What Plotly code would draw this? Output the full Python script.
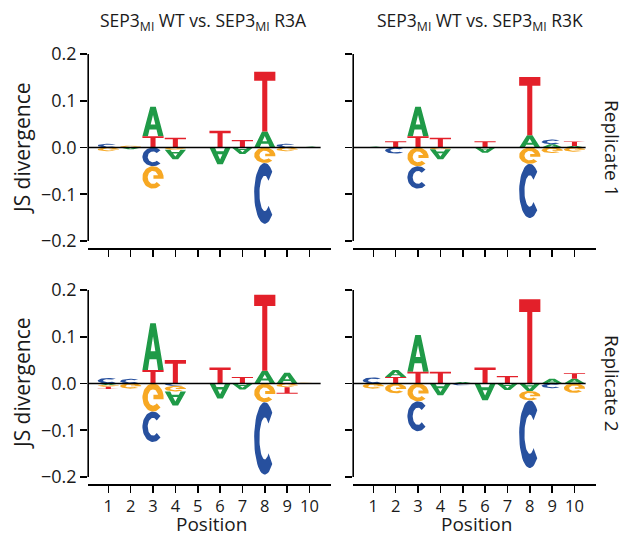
import numpy as np
import plotly.graph_objects as go

# ---------------- data ----------------
POSITIONS = [1, 2, 3, 4, 5, 6, 7, 8, 9, 10]
POSITION_LABELS = ["1", "2", "3", "4", "5", "6", "7", "8", "9", "10"]
Y_TICKS = [-0.2, -0.1, 0.0, 0.1, 0.2]

COLUMN_TITLES = ["SEP3<sub>MI</sub> WT vs. SEP3<sub>MI</sub> R3A",
                 "SEP3<sub>MI</sub> WT vs. SEP3<sub>MI</sub> R3K"]
ROW_TITLES = ["Replicate 1", "Replicate 2"]

# signed JS-divergence contributions per nucleotide, positions 1..10
R3A_REP1_A = [0.0, -0.004, 0.063, -0.020, 0.0, -0.036, -0.014, 0.034, 0.0, 0.002]
R3A_REP1_C = [0.008, 0.0, -0.040, 0.0, 0.0, 0.0, 0.0, -0.130, 0.008, 0.0]
R3A_REP1_G = [-0.008, 0.004, -0.048, -0.005, 0.0, 0.0, 0.0, -0.033, -0.008, 0.0]
R3A_REP1_T = [0.0, 0.0, 0.024, 0.021, 0.0, 0.036, 0.016, 0.128, 0.0, 0.0]

R3K_REP1_A = [0.002, 0.0, 0.063, -0.021, 0.0, -0.011, 0.0, 0.026, 0.007, 0.003]
R3K_REP1_C = [0.0, -0.013, -0.048, 0.0, 0.0, 0.0, 0.0, -0.116, 0.010, 0.0]
R3K_REP1_G = [0.0, 0.0, -0.040, -0.004, 0.0, 0.0, 0.0, -0.035, -0.012, -0.009]
R3K_REP1_T = [0.0, 0.0135, 0.024, 0.021, 0.0, 0.0135, 0.0, 0.125, 0.0, 0.010]

R3A_REP2_A = [-0.003, 0.0, 0.100, -0.030, 0.0, -0.032, -0.013, 0.027, 0.023, 0.0]
R3A_REP2_C = [0.012, 0.010, -0.065, -0.005, 0.0, 0.0, 0.0, -0.155, 0.0, 0.0]
R3A_REP2_G = [-0.004, -0.011, -0.060, -0.012, 0.0, 0.0, 0.0, -0.040, -0.008, 0.002]
R3A_REP2_T = [-0.005, 0.0, 0.029, 0.050, 0.0, 0.034, 0.014, 0.163, -0.014, 0.0]

R3K_REP2_A = [0.0, 0.015, 0.079, -0.025, 0.003, -0.036, -0.014, -0.016, 0.010, 0.010]
R3K_REP2_C = [0.013, 0.0, -0.064, 0.0, -0.004, 0.0, 0.0, -0.145, -0.010, 0.0]
R3K_REP2_G = [-0.011, -0.021, -0.038, 0.0, 0.0, 0.0, 0.0, -0.020, 0.0, -0.020]
R3K_REP2_T = [0.0, 0.014, 0.025, 0.025, 0.0, 0.034, 0.016, 0.180, 0.0, 0.012]

LETTERS = ["A", "C", "G", "T"]
COLORS = {"A": "#1f9a47", "C": "#27509e", "G": "#f7a823", "T": "#e3202a"}

PANELS = [
    {"A": R3A_REP1_A, "C": R3A_REP1_C, "G": R3A_REP1_G, "T": R3A_REP1_T},
    {"A": R3K_REP1_A, "C": R3K_REP1_C, "G": R3K_REP1_G, "T": R3K_REP1_T},
    {"A": R3A_REP2_A, "C": R3A_REP2_C, "G": R3A_REP2_G, "T": R3A_REP2_T},
    {"A": R3K_REP2_A, "C": R3K_REP2_C, "G": R3K_REP2_G, "T": R3K_REP2_T},
]


# ---------------- glyph outlines in a unit box ----------------
def arc(rx, ry, t0, t1, n=40):
    t = np.radians(np.linspace(t0, t1, n))
    return list(zip(0.5 + rx * np.cos(t), 0.5 + ry * np.sin(t)))


IRX, IRY = 0.25, 0.29


def glyph(letter):
    if letter == "A":
        return [(0, 0), (0.37, 1), (0.63, 1), (1, 0), (0.74, 0), (0.665, 0.23),
                (0.5, 0.23), (0.5, 0.40), (0.61, 0.40), (0.5, 0.72), (0.39, 0.40),
                (0.5, 0.40), (0.5, 0.23), (0.335, 0.23), (0.26, 0)]
    if letter == "C":
        return arc(0.5, 0.5, 45, 315) + arc(IRX, IRY, 315, 45)
    if letter == "G":
        tb = np.degrees(np.arcsin((0.40 - 0.5) / IRY))
        xb = 0.5 + IRX * np.cos(np.radians(tb))
        return (arc(0.5, 0.5, 45, 350) +
                [(1.0, 0.56), (0.52, 0.56), (0.52, 0.40), (xb, 0.40)] +
                arc(IRX, IRY, 360 + tb, 45))
    if letter == "T":
        return [(0, 1), (1, 1), (1, 0.85), (0.62, 0.85), (0.62, 0),
                (0.38, 0), (0.38, 0.85), (0, 0.85)]


GLYPHS = {L: glyph(L) for L in LETTERS}
WIDTH = 0.95

# ---------------- layout geometry ----------------
X_RANGE = [0.1, 10.95]
Y_RANGE = [-0.215, 0.2]
W, H = 625, 537
X_DOMAINS = [[88.2 / W, 330.7 / W], [353.2 / W, 595.7 / W]]
Y_DOMAINS = [[(H - 248) / H, (H - 54) / H], [(H - 484) / H, (H - 290) / H]]

fig = go.Figure()
shapes = []
annotations = []
FONT = "Open Sans, Lato, Arial, sans-serif"
TXT = "#1a1a1a"

for p, panel in enumerate(PANELS):
    row, col = divmod(p, 2)
    suffix = "" if p == 0 else str(p + 1)
    segs = {L: ([], []) for L in LETTERS}
    for i, pos in enumerate(POSITIONS):
        vals = [(L, panel[L][i]) for L in LETTERS if panel[L][i] != 0]
        pos_vals = sorted([v for v in vals if v[1] > 0], key=lambda v: abs(v[1]))
        neg_vals = sorted([v for v in vals if v[1] < 0], key=lambda v: abs(v[1]))
        base = 0.0
        for L, v in pos_vals:
            xs, ys = segs[L]
            for gx, gy in GLYPHS[L]:
                xs.append(pos - WIDTH / 2 + gx * WIDTH)
                ys.append(base + gy * v)
            xs.append(None); ys.append(None)
            base += v
        base = 0.0
        for L, v in neg_vals:
            xs, ys = segs[L]
            h = -v
            low = base - h
            for gx, gy in GLYPHS[L]:
                xs.append(pos - WIDTH / 2 + gx * WIDTH)
                ys.append(low + (1 - gy) * h)
            xs.append(None); ys.append(None)
            base = low
    for L in LETTERS:
        xs, ys = segs[L]
        if not xs:
            continue
        fig.add_trace(go.Scatter(
            x=xs, y=ys, mode="lines", fill="toself", fillcolor=COLORS[L],
            line=dict(width=0, color=COLORS[L]), hoverinfo="skip",
            xaxis="x" + suffix, yaxis="y" + suffix, showlegend=False))

    fig.update_layout({
        "xaxis" + suffix: dict(
            domain=X_DOMAINS[col], range=X_RANGE, anchor="y" + suffix,
            automargin=False,
            showline=True, linecolor="black", linewidth=1.6,
            ticks="outside", ticklen=7, tickwidth=1.6, tickcolor="black",
            tickvals=POSITIONS, ticktext=POSITION_LABELS,
            showticklabels=(row == 1), showgrid=False, zeroline=False,
            tickfont=dict(size=16.5, color=TXT, family=FONT)),
        "yaxis" + suffix: dict(
            domain=Y_DOMAINS[row], range=Y_RANGE, anchor="x" + suffix,
            automargin=False,
            showline=False, ticks="outside", ticklen=7, tickwidth=1.6,
            tickcolor="black", tickvals=Y_TICKS, tickformat=".1f",
            showticklabels=(col == 0), showgrid=False, zeroline=False,
            tickfont=dict(size=18, color=TXT, family=FONT)),
    })
    shapes.append(dict(type="line", xref="x" + suffix + " domain", x0=0, x1=0,
                       yref="y" + suffix, y0=Y_TICKS[0], y1=Y_TICKS[-1],
                       line=dict(color="black", width=1.6)))
    shapes.append(dict(type="line", xref="x" + suffix, x0=X_RANGE[0], x1=10.5,
                       yref="y" + suffix, y0=0, y1=0, layer="above",
                       line=dict(color="black", width=1.6)))

col_centers = [203 / W, 480 / W]
for c, t in enumerate(COLUMN_TITLES):
    annotations.append(dict(text=t, x=col_centers[c], y=1 - 22 / H, xref="paper",
                            yref="paper", showarrow=False, xanchor="center",
                            yanchor="middle", font=dict(size=17.5, color=TXT, family=FONT)))
row_centers = [1 - 148 / H, 1 - 383 / H]
for r, t in enumerate(ROW_TITLES):
    annotations.append(dict(text=t, x=612 / W, y=row_centers[r], xref="paper",
                            yref="paper", showarrow=False, textangle=90,
                            xanchor="center", yanchor="middle",
                            font=dict(size=19, color=TXT, family=FONT)))
    annotations.append(dict(text="JS divergence", x=22 / W, y=row_centers[r],
                            xref="paper", yref="paper", showarrow=False,
                            textangle=-90, xanchor="center", yanchor="middle",
                            font=dict(size=21, color=TXT, family=FONT)))
for c in range(2):
    annotations.append(dict(text="Position", x=[211 / W, 476 / W][c], y=-1 / H,
                            xref="paper", yref="paper", showarrow=False,
                            xanchor="center", yanchor="bottom", borderpad=0,
                            font=dict(size=19, color=TXT, family=FONT)))

fig.update_layout(template="none", width=W, height=H,
                  margin=dict(l=0, r=0, t=0, b=0, pad=0, autoexpand=False),
                  paper_bgcolor="white", plot_bgcolor="white",
                  showlegend=False, shapes=shapes, annotations=annotations,
                  font=dict(family=FONT))

fig.write_html("out.html", config={"displayModeBar": False, "staticPlot": True},
               post_script="document.body.style.margin='0';"
                           "document.body.style.padding='0';"
                           "document.documentElement.style.overflow='hidden';")
